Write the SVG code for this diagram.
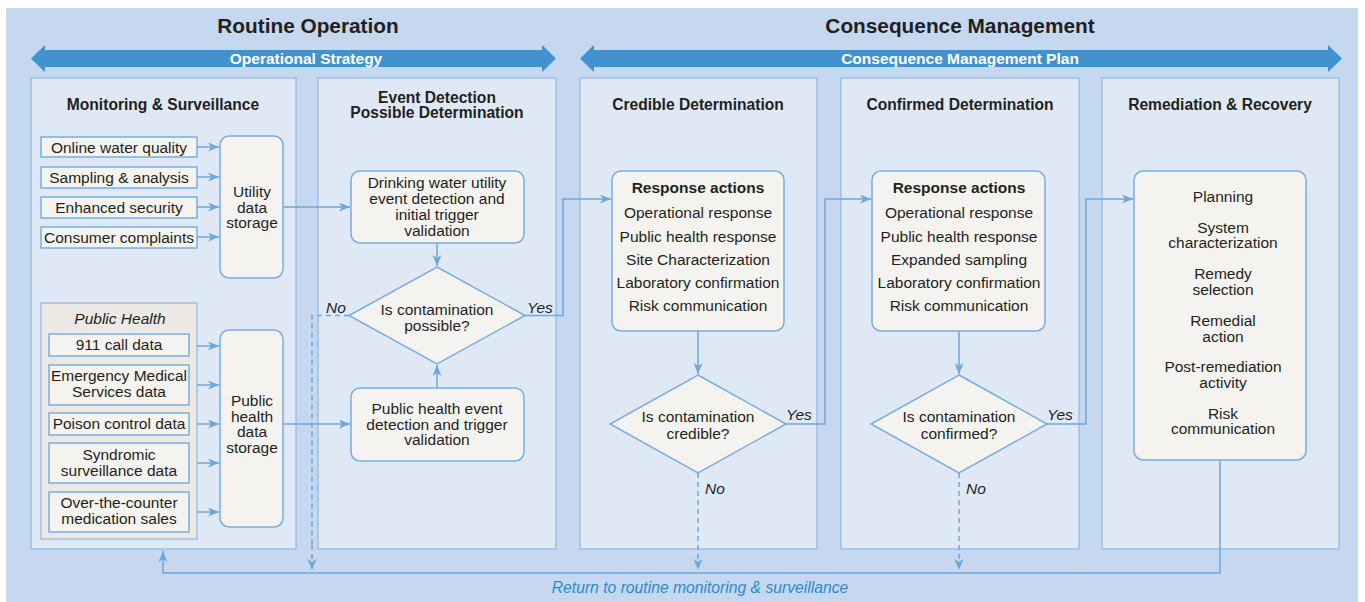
<svg xmlns="http://www.w3.org/2000/svg" width="1365" height="602" viewBox="0 0 1365 602">
<defs>
<marker id="ah" markerUnits="userSpaceOnUse" markerWidth="12" markerHeight="10" refX="11" refY="4.5" orient="auto">
<path d="M0,0 L11,4.5 L0,9 L3,4.5 z" fill="#6fa6dc"/>
</marker>
</defs>
<style>
text{font-family:"Liberation Sans",Arial,Helvetica,sans-serif;fill:#231f20}
.h1{font-size:20.8px;font-weight:bold;text-anchor:middle}
.band{font-size:15.5px;font-weight:bold;fill:#ffffff;text-anchor:middle}
.pt{font-size:15.6px;font-weight:bold;text-anchor:middle}
.t{font-size:15.5px;text-anchor:middle}
.tb{font-size:15.5px;font-weight:bold;text-anchor:middle}
.it{font-size:15.5px;font-style:italic}
.ret{font-size:15.7px;font-style:italic;fill:#2a8bcc;text-anchor:middle}
.panel{fill:#dfe9f6;stroke:#8fb7e3;stroke-width:1.2}
.box{fill:#f5f3f0;stroke:#78ade0;stroke-width:1.5}
.grp{fill:#ece9e4;stroke:#8fb7e3;stroke-width:1.2}
.arr{fill:#4192d1}
.ln{fill:none;stroke:#6fa6dc;stroke-width:1.5}
.lnm{fill:none;stroke:#6fa6dc;stroke-width:1.5;marker-end:url(#ah)}
.dash{fill:none;stroke:#6fa6dc;stroke-width:1.5;stroke-dasharray:5,4}
.dashm{fill:none;stroke:#6fa6dc;stroke-width:1.5;stroke-dasharray:5,4;marker-end:url(#ah)}
</style>
<rect x="6" y="8" width="1352" height="594" fill="#c6d8ef"/>
<g id="headers">
<text class="h1" x="308" y="33">Routine Operation</text>
<text class="h1" x="960" y="33">Consequence Management</text>
<polygon class="arr" points="31,58.5 45,45 45,50 542,50 542,45 556,58.5 542,72 542,67 45,67 45,72"/>
<text class="band" x="306" y="64">Operational Strategy</text>
<polygon class="arr" points="580,58.5 594,45 594,50 1328,50 1328,45 1342,58.5 1328,72 1328,67 594,67 594,72"/>
<text class="band" x="960" y="64">Consequence Management Plan</text>
</g>
<g id="panel-monitoring">
<rect class="panel" x="31" y="78" width="265" height="471"/>
<text class="pt" x="163" y="110">Monitoring &amp; Surveillance</text>
</g>
<g id="panel-event">
<rect class="panel" x="318" y="78" width="238" height="471"/>
<text class="pt" x="437" y="103">Event Detection</text>
<text class="pt" x="437" y="118">Possible Determination</text>
</g>
<g id="panel-credible">
<rect class="panel" x="580" y="78" width="237" height="471"/>
<text class="pt" x="698" y="110">Credible Determination</text>
</g>
<g id="panel-confirmed">
<rect class="panel" x="841" y="78" width="238" height="471"/>
<text class="pt" x="960" y="110">Confirmed Determination</text>
</g>
<g id="panel-remediation">
<rect class="panel" x="1102" y="78" width="237" height="471"/>
<text class="pt" x="1220" y="110">Remediation &amp; Recovery</text>
</g>
<g id="online-water-quality"><rect class="box" x="41" y="137" width="156" height="20"/><text class="t" x="119" y="152.5">Online water quality</text></g>
<g id="sampling-analysis"><rect class="box" x="41" y="167" width="156" height="21"/><text class="t" x="119" y="182.5">Sampling &amp; analysis</text></g>
<g id="enhanced-security"><rect class="box" x="41" y="197" width="156" height="21"/><text class="t" x="119" y="212.5">Enhanced security</text></g>
<g id="consumer-complaints"><rect class="box" x="41" y="227" width="156" height="21"/><text class="t" x="119" y="242.5">Consumer complaints</text></g>
<g id="utility-data-storage"><rect class="box" x="220" y="136" width="63" height="142" rx="9"/>
<text class="t" x="252" y="197">Utility</text><text class="t" x="252" y="212.5">data</text><text class="t" x="252" y="228">storage</text></g>
<g id="public-health-group"><rect class="grp" x="41" y="303" width="156" height="236"/>
<text class="it" x="120" y="324" text-anchor="middle">Public Health</text></g>
<g id="call-911"><rect class="box" x="49" y="334" width="140" height="22"/><text class="t" x="119" y="350">911 call data</text></g>
<g id="ems-data"><rect class="box" x="49" y="365" width="140" height="40"/><text class="t" x="119" y="381">Emergency Medical</text><text class="t" x="119" y="396.5">Services data</text></g>
<g id="poison-control"><rect class="box" x="49" y="413" width="140" height="22"/><text class="t" x="119" y="429">Poison control data</text></g>
<g id="syndromic"><rect class="box" x="49" y="443" width="140" height="40"/><text class="t" x="119" y="459.5">Syndromic</text><text class="t" x="119" y="475.5">surveillance data</text></g>
<g id="otc-sales"><rect class="box" x="49" y="492" width="140" height="40"/><text class="t" x="119" y="508">Over-the-counter</text><text class="t" x="119" y="523.5">medication sales</text></g>
<g id="public-health-data-storage"><rect class="box" x="220" y="330" width="63" height="197" rx="9"/>
<text class="t" x="252" y="406">Public</text><text class="t" x="252" y="421.5">health</text><text class="t" x="252" y="437">data</text><text class="t" x="252" y="452.5">storage</text></g>
<g id="dw-event-detection"><rect class="box" x="351" y="171" width="173" height="72" rx="9"/>
<text class="t" x="437" y="188">Drinking water utility</text><text class="t" x="437" y="204">event detection and</text><text class="t" x="437" y="220">initial trigger</text><text class="t" x="437" y="235.5">validation</text></g>
<g id="possible-decision"><polygon class="box" points="437,267 525,315.5 437,364 349,315.5"/>
<text class="t" x="437" y="315">Is contamination</text><text class="t" x="437" y="331">possible?</text></g>
<g id="ph-event-detection"><rect class="box" x="351" y="388" width="173" height="73" rx="9"/>
<text class="t" x="437" y="414">Public health event</text><text class="t" x="437" y="429.5">detection and trigger</text><text class="t" x="437" y="445">validation</text></g>
<g id="credible-response"><rect class="box" x="612" y="171" width="172" height="160" rx="9"/>
<text class="tb" x="698" y="193">Response actions</text>
<text class="t" x="698" y="218">Operational response</text>
<text class="t" x="698" y="241.5">Public health response</text>
<text class="t" x="698" y="264.5">Site Characterization</text>
<text class="t" x="698" y="287.5">Laboratory confirmation</text>
<text class="t" x="698" y="310.5">Risk communication</text></g>
<g id="credible-decision"><polygon class="box" points="698,375 786,424 698,473 610,424"/>
<text class="t" x="698" y="422">Is contamination</text><text class="t" x="698" y="439">credible?</text></g>
<g id="confirmed-response"><rect class="box" x="872" y="171" width="173" height="160" rx="9"/>
<text class="tb" x="959" y="193">Response actions</text>
<text class="t" x="959" y="218">Operational response</text>
<text class="t" x="959" y="241.5">Public health response</text>
<text class="t" x="959" y="264.5">Expanded sampling</text>
<text class="t" x="959" y="287.5">Laboratory confirmation</text>
<text class="t" x="959" y="310.5">Risk communication</text></g>
<g id="confirmed-decision"><polygon class="box" points="959,375 1047,424 959,473 871,424"/>
<text class="t" x="959" y="422">Is contamination</text><text class="t" x="959" y="439">confirmed?</text></g>
<g id="remediation-box"><rect class="box" x="1134" y="171" width="172" height="289" rx="9"/>
<text class="t" x="1223" y="202">Planning</text>
<text class="t" x="1223" y="233">System</text><text class="t" x="1223" y="248">characterization</text>
<text class="t" x="1223" y="278.5">Remedy</text><text class="t" x="1223" y="294.5">selection</text>
<text class="t" x="1223" y="325.5">Remedial</text><text class="t" x="1223" y="341.5">action</text>
<text class="t" x="1223" y="371.5">Post-remediation</text><text class="t" x="1223" y="387.5">activity</text>
<text class="t" x="1223" y="418.5">Risk</text><text class="t" x="1223" y="434">communication</text></g>
<g id="connectors">
<line class="lnm" x1="197" y1="147" x2="219" y2="147"/>
<line class="lnm" x1="197" y1="177" x2="219" y2="177"/>
<line class="lnm" x1="197" y1="207" x2="219" y2="207"/>
<line class="lnm" x1="197" y1="237" x2="219" y2="237"/>
<line class="lnm" x1="197" y1="346" x2="219" y2="346"/>
<line class="lnm" x1="197" y1="385" x2="219" y2="385"/>
<line class="lnm" x1="197" y1="424" x2="219" y2="424"/>
<line class="lnm" x1="197" y1="463" x2="219" y2="463"/>
<line class="lnm" x1="197" y1="512" x2="219" y2="512"/>
<line class="lnm" x1="283" y1="207" x2="350" y2="207"/>
<line class="lnm" x1="283" y1="424" x2="350" y2="424"/>
<line class="lnm" x1="437" y1="243" x2="437" y2="266"/>
<line class="lnm" x1="437" y1="388" x2="437" y2="365"/>
<polyline class="lnm" points="525,315.5 563,315.5 563,199 611,199"/>
<polyline class="dash" points="349,315.5 312,315.5 312,545"/>
<line class="dashm" x1="312" y1="545" x2="312" y2="570"/>
<line class="lnm" x1="698" y1="331" x2="698" y2="374"/>
<polyline class="lnm" points="786,424 825,424 825,199 871,199"/>
<line class="dashm" x1="698" y1="473" x2="698" y2="570"/>
<line class="lnm" x1="959" y1="331" x2="959" y2="374"/>
<polyline class="lnm" points="1047,424 1086,424 1086,199 1133,199"/>
<line class="dashm" x1="959" y1="473" x2="959" y2="570"/>
<polyline class="lnm" points="1220,460 1220,573 163,573 163,551"/>
<text class="it" x="326" y="313">No</text>
<text class="it" x="527" y="313">Yes</text>
<text class="it" x="786" y="420">Yes</text>
<text class="it" x="1047" y="420">Yes</text>
<text class="it" x="705" y="494">No</text>
<text class="it" x="966" y="494">No</text>
<text class="ret" x="700" y="593">Return to routine monitoring &amp; surveillance</text>
</g>
</svg>
